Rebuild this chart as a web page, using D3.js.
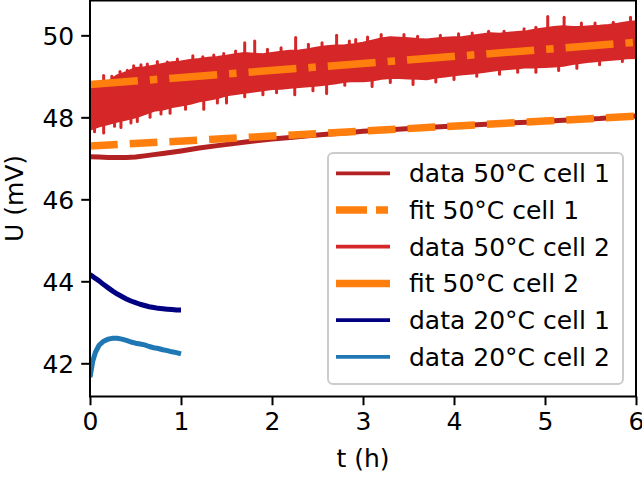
<!DOCTYPE html>
<html><head><meta charset="utf-8">
<script src="https://cdn.jsdelivr.net/npm/d3@7"></script>
<style>body{margin:0;background:#fff}svg{display:block}text{font-family:"DejaVu Sans",sans-serif;fill:#000}</style>
</head><body><svg id="c" width="642" height="479"></svg>
<script>
// ---- data ----
const xTicks = [0,1,2,3,4,5,6];
const yTicks = [42,44,46,48,50];

// 50°C cell 2 noisy band: envelope at 0.1 h steps
const bandT = d3.range(0, 6.001, 0.1).map(v => +v.toFixed(2));
const bandHi = [48.66,48.75,48.85,49.0,49.08,49.18,49.2,49.24,49.28,49.32,49.34,49.38,49.4,49.43,49.45,49.48,49.52,49.55,49.53,49.52,49.55,49.58,49.6,49.61,49.64,49.68,49.71,49.73,49.74,49.76,49.8,49.85,49.9,49.93,49.92,49.91,49.89,49.88,49.9,49.92,49.93,49.94,49.97,50.0,50.03,50.02,50.04,50.06,50.08,50.12,50.15,50.18,50.2,50.18,50.18,50.2,50.21,50.23,50.26,50.3,50.32];
const bandLo = [47.72,47.8,47.86,47.92,47.97,48.02,48.1,48.18,48.21,48.27,48.31,48.35,48.41,48.45,48.49,48.56,48.59,48.62,48.65,48.68,48.71,48.72,48.74,48.76,48.78,48.8,48.82,48.85,48.89,48.91,48.9,48.92,48.96,48.98,48.98,48.97,48.96,48.95,48.99,49.02,49.05,49.07,49.09,49.12,49.15,49.18,49.2,49.22,49.24,49.24,49.25,49.26,49.28,49.32,49.35,49.38,49.4,49.42,49.44,49.46,49.47];
// individual spikes outside the envelope
const spikeT  = [0.15,0.24,0.33,0.41,0.48,0.56,0.63,0.74,0.85,0.96,1.13,1.24,1.36,1.47,1.6,1.7,1.81,1.95,2.1,2.26,2.4,2.55,2.71,2.85,2.92,3.05,3.2,3.45,3.6,3.85,4.05,4.2,4.38,4.55,4.77,4.9,5.03,5.21,5.4,5.55,5.75,5.94,
                 0.05,0.15,0.27,0.34,0.45,0.52,0.66,0.78,0.88,1.05,1.25,1.4,1.5,1.7,1.9,2.05,2.25,2.45,2.6,2.8,3.1,3.3,3.55,3.8,4.0,4.25,4.5,4.7,4.9,5.15,5.35,5.6,5.85];
const spikeV  = [49.02,49.0,49.12,49.15,49.26,49.28,49.3,49.36,49.35,49.42,49.5,49.48,49.52,49.56,49.62,49.82,49.86,49.66,49.7,49.95,49.78,49.82,50.0,49.86,49.9,49.96,50.02,50.02,49.98,50.0,50.04,50.06,50.1,50.1,50.16,50.2,50.46,50.44,50.3,50.3,50.32,50.44,
                 47.65,47.62,47.78,47.75,47.86,47.9,48.0,48.08,48.1,48.2,48.2,48.35,48.35,48.5,48.55,48.6,48.55,48.65,48.58,48.78,48.75,48.85,48.8,48.86,48.92,49.0,49.05,49.1,49.1,49.14,49.2,49.28,49.36];

// 50°C cell 1 data (smooth lower curve)
const c1T = [0,0.1,0.2,0.3,0.4,0.5,0.6,0.7,0.8,0.9,1.0,1.2,1.4,1.6,1.8,2.0,2.2,2.4,2.6,2.8,3.0,3.3,3.6,4.0,4.4,4.8,5.2,5.6,6.0];
const c1V = [47.04,47.03,47.02,47.02,47.02,47.03,47.06,47.09,47.12,47.15,47.18,47.25,47.31,47.37,47.42,47.47,47.51,47.55,47.59,47.62,47.66,47.7,47.74,47.79,47.84,47.88,47.93,47.97,48.03];

// fits (straight lines)
const fitT = [0, 6];
const fitDashDot = [48.8, 49.83];
const fitDashed = [47.3, 48.03];

// 20°C cells
const c20T = [0,0.03,0.06,0.1,0.15,0.2,0.25,0.3,0.35,0.4,0.45,0.5,0.55,0.6,0.65,0.7,0.75,0.8,0.85,0.9,0.95,1.0];
const c20a = [44.16,44.12,44.07,44.01,43.92,43.84,43.76,43.69,43.63,43.57,43.52,43.48,43.44,43.41,43.38,43.36,43.34,43.33,43.32,43.31,43.3,43.3];
const c20b = [41.66,42.05,42.27,42.44,42.54,42.59,42.61,42.61,42.59,42.56,42.52,42.49,42.47,42.45,42.41,42.38,42.36,42.33,42.31,42.28,42.26,42.23];

const legendLabels = ["data 50°C cell 1","fit 50°C cell 1","data 50°C cell 2","fit 50°C cell 2","data 20°C cell 1","data 20°C cell 2"];

// ---- styles ----
const C = {fire:"#b22222", red:"#d62728", orange:"#ff7f0e", navy:"#000080", blue:"#1f77b4"};
const dataW = 3.75, plotW = 5, fitW = 7.5;
const DASH = "27.75,12", DASHDOT = "48,12,7.5,12";

const svg = d3.select("#c");
const x = d3.scaleLinear().domain([0,6]).range([90,636]);
const y = d3.scaleLinear().domain([41.19,50.85]).range([396.5,0.5]);

const g = svg.append("g");
svg.append("clipPath").attr("id","pc").append("rect")
  .attr("x",x(0)).attr("y",y(50.85)).attr("width",x(6)-x(0)).attr("height",y(41.19)-y(50.85));
const plot = g.append("g").attr("clip-path","url(#pc)");
const line = (T,V) => d3.line().x((d,i)=>x(T[i])).y((d,i)=>y(V[i]))(V);

// 50°C cell 1 data
plot.append("path").attr("d",line(c1T,c1V)).attr("fill","none").attr("stroke",C.fire).attr("stroke-width",plotW);
// 50°C cell 2 band
const area = d3.area().x((d,i)=>x(bandT[i])).y0((d,i)=>y(bandLo[i])).y1((d,i)=>y(bandHi[i]));
plot.append("path").attr("d",area(bandHi)).attr("fill",C.red).attr("stroke",C.red).attr("stroke-width",dataW).attr("stroke-linejoin","round");
const mid = t => { const i = Math.min(59, Math.floor(t*10)); return (bandHi[i]+bandLo[i])/2; };
plot.selectAll("line.sp").data(spikeT).enter().append("line")
  .attr("x1",d=>x(d)).attr("x2",d=>x(d))
  .attr("y1",d=>y(mid(d))).attr("y2",(d,i)=>y(spikeV[i]))
  .attr("stroke",C.red).attr("stroke-width",3).attr("stroke-linecap","round");
// fits
plot.append("path").attr("d",line(fitT,fitDashDot)).attr("fill","none").attr("stroke",C.orange).attr("stroke-width",fitW).attr("stroke-dasharray",DASHDOT);
plot.append("path").attr("d",line(fitT,fitDashed)).attr("fill","none").attr("stroke",C.orange).attr("stroke-width",fitW).attr("stroke-dasharray",DASH);
// 20°C
plot.append("path").attr("d",line(c20T,c20a)).attr("fill","none").attr("stroke",C.navy).attr("stroke-width",plotW).attr("stroke-linejoin","round");
plot.append("path").attr("d",line(c20T,c20b)).attr("fill","none").attr("stroke",C.blue).attr("stroke-width",plotW).attr("stroke-linejoin","round");

// axes
const xAxis = d3.axisBottom(x).tickValues(xTicks).tickSize(8.75).tickPadding(6).tickFormat(d3.format("d"));
const yAxis = d3.axisLeft(y).tickValues(yTicks).tickSize(8.75).tickPadding(7).tickFormat(d3.format("d"));
const gx = g.append("g").attr("transform",`translate(0,${y(41.19)})`).call(xAxis);
const gy = g.append("g").attr("transform",`translate(${x(0)},0)`).call(yAxis);
[gx,gy].forEach(a=>{
  a.select(".domain").remove();
  a.selectAll(".tick line").attr("stroke","#000").attr("stroke-width",2);
  a.selectAll(".tick text").style("font-size","25px").style("font-family","DejaVu Sans");
});
gx.selectAll(".tick text").attr("dy","0.75em");
gy.selectAll(".tick text").attr("dy","0.36em");
// frame
g.append("rect").attr("x",x(0)).attr("y",y(50.85)).attr("width",x(6)-x(0)).attr("height",y(41.19)-y(50.85))
  .attr("fill","none").attr("stroke","#000").attr("stroke-width",2);

// axis labels
g.append("text").attr("x",(x(0)+x(6))/2).attr("y",467).attr("text-anchor","middle").style("font-size","25px").text("t (h)");
g.append("text").attr("transform",`translate(23,${(y(41.19)+y(50.85))/2}) rotate(-90)`).attr("text-anchor","middle").style("font-size","25px").text("U (mV)");

// legend
const lg = g.append("g");
lg.append("rect").attr("x",328).attr("y",153).attr("width",295).attr("height",231).attr("rx",5)
  .attr("fill","#fff").attr("fill-opacity",0.8).attr("stroke","#cccccc").attr("stroke-width",2);
const lstyle = [[C.fire,dataW,null],[C.orange,fitW,"31,9,12,40"],[C.red,dataW,null],[C.orange,fitW,null],[C.navy,dataW,null],[C.blue,dataW,null]];
legendLabels.forEach((lab,i)=>{
  const cy = 173.3 + i*36.7;
  const ln = lg.append("line").attr("x1",336).attr("x2",390).attr("y1",cy).attr("y2",cy)
    .attr("stroke",lstyle[i][0]).attr("stroke-width",lstyle[i][1]);
  if(lstyle[i][2]) ln.attr("stroke-dasharray",lstyle[i][2]);
  lg.append("text").attr("x",409).attr("y",cy).attr("dy","0.36em").style("font-size","25px").text(lab);
});
</script></body></html>
